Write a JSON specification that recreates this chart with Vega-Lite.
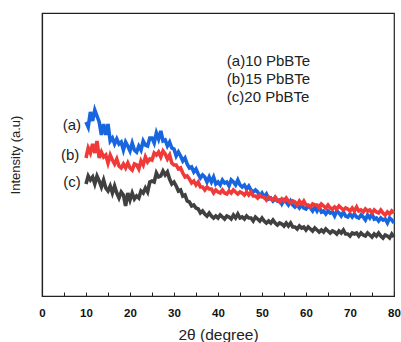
{
  "$schema": "https://vega.github.io/schema/vega-lite/v6.json",
  "autosize": {"type": "none"},
  "padding": {"left": 42, "top": 13, "right": 7, "bottom": 46},
  "width": 352,
  "height": 283,
  "background": "white",
  "config": {
    "view": {"stroke": "#222", "strokeWidth": 1.2},
    "font": "Liberation Sans"
  },
  "datasets": {
    "xrd": [
      {"x":10,"y":174,"s":"a"},{"x":10.5,"y":169,"s":"a"},{"x":11,"y":184,"s":"a"},{"x":11.5,"y":175,"s":"a"},{"x":12,"y":186,"s":"a"},{"x":12.5,"y":180,"s":"a"},{"x":13,"y":174,"s":"a"},{"x":13.5,"y":161,"s":"a"},{"x":14,"y":172,"s":"a"},{"x":14.5,"y":161,"s":"a"},{"x":15,"y":172,"s":"a"},{"x":15.5,"y":155,"s":"a"},{"x":16,"y":158,"s":"a"},{"x":16.5,"y":152,"s":"a"},{"x":17,"y":157,"s":"a"},{"x":17.5,"y":152,"s":"a"},{"x":18,"y":154,"s":"a"},{"x":18.5,"y":146,"s":"a"},{"x":19,"y":154,"s":"a"},{"x":19.5,"y":150,"s":"a"},{"x":20,"y":145,"s":"a"},{"x":20.5,"y":153,"s":"a"},{"x":21,"y":146,"s":"a"},{"x":21.5,"y":144,"s":"a"},{"x":22,"y":150,"s":"a"},{"x":22.5,"y":146,"s":"a"},{"x":23,"y":155,"s":"a"},{"x":23.5,"y":151,"s":"a"},{"x":24,"y":150,"s":"a"},{"x":24.5,"y":158,"s":"a"},{"x":25,"y":158,"s":"a"},{"x":25.5,"y":153,"s":"a"},{"x":26,"y":163,"s":"a"},{"x":26.5,"y":157,"s":"a"},{"x":27,"y":165,"s":"a"},{"x":27.5,"y":155,"s":"a"},{"x":28,"y":156,"s":"a"},{"x":28.5,"y":150,"s":"a"},{"x":29,"y":154,"s":"a"},{"x":29.5,"y":148,"s":"a"},{"x":30,"y":147,"s":"a"},{"x":30.5,"y":140,"s":"a"},{"x":31,"y":144,"s":"a"},{"x":31.5,"y":140,"s":"a"},{"x":32,"y":135,"s":"a"},{"x":32.5,"y":138,"s":"a"},{"x":33,"y":132,"s":"a"},{"x":33.5,"y":128,"s":"a"},{"x":34,"y":129,"s":"a"},{"x":34.5,"y":124,"s":"a"},{"x":35,"y":127,"s":"a"},{"x":35.5,"y":122,"s":"a"},{"x":36,"y":118,"s":"a"},{"x":36.5,"y":121,"s":"a"},{"x":37,"y":119,"s":"a"},{"x":37.5,"y":114,"s":"a"},{"x":38,"y":119,"s":"a"},{"x":38.5,"y":114,"s":"a"},{"x":39,"y":119,"s":"a"},{"x":39.5,"y":112,"s":"a"},{"x":40,"y":114,"s":"a"},{"x":40.5,"y":111,"s":"a"},{"x":41,"y":116,"s":"a"},{"x":41.5,"y":113,"s":"a"},{"x":42,"y":114,"s":"a"},{"x":42.5,"y":110,"s":"a"},{"x":43,"y":116,"s":"a"},{"x":43.5,"y":114,"s":"a"},{"x":44,"y":111,"s":"a"},{"x":44.5,"y":116,"s":"a"},{"x":45,"y":111,"s":"a"},{"x":45.5,"y":109,"s":"a"},{"x":46,"y":111,"s":"a"},{"x":46.5,"y":107,"s":"a"},{"x":47,"y":110,"s":"a"},{"x":47.5,"y":106,"s":"a"},{"x":48,"y":104,"s":"a"},{"x":48.5,"y":106,"s":"a"},{"x":49,"y":104,"s":"a"},{"x":49.5,"y":100,"s":"a"},{"x":50,"y":103,"s":"a"},{"x":50.5,"y":99,"s":"a"},{"x":51,"y":102,"s":"a"},{"x":51.5,"y":97,"s":"a"},{"x":52,"y":98,"s":"a"},{"x":52.5,"y":95,"s":"a"},{"x":53,"y":97,"s":"a"},{"x":53.5,"y":95,"s":"a"},{"x":54,"y":96,"s":"a"},{"x":54.5,"y":92,"s":"a"},{"x":55,"y":96,"s":"a"},{"x":55.5,"y":94,"s":"a"},{"x":56,"y":91,"s":"a"},{"x":56.5,"y":95,"s":"a"},{"x":57,"y":91,"s":"a"},{"x":57.5,"y":89,"s":"a"},{"x":58,"y":91,"s":"a"},{"x":58.5,"y":88,"s":"a"},{"x":59,"y":91,"s":"a"},{"x":59.5,"y":88,"s":"a"},{"x":60,"y":87,"s":"a"},{"x":60.5,"y":90,"s":"a"},{"x":61,"y":88,"s":"a"},{"x":61.5,"y":85,"s":"a"},{"x":62,"y":89,"s":"a"},{"x":62.5,"y":85,"s":"a"},{"x":63,"y":89,"s":"a"},{"x":63.5,"y":84,"s":"a"},{"x":64,"y":85,"s":"a"},{"x":64.5,"y":82,"s":"a"},{"x":65,"y":85,"s":"a"},{"x":65.5,"y":83,"s":"a"},{"x":66,"y":84,"s":"a"},{"x":66.5,"y":80,"s":"a"},{"x":67,"y":85,"s":"a"},{"x":67.5,"y":83,"s":"a"},{"x":68,"y":80,"s":"a"},{"x":68.5,"y":84,"s":"a"},{"x":69,"y":80,"s":"a"},{"x":69.5,"y":79,"s":"a"},{"x":70,"y":82,"s":"a"},{"x":70.5,"y":79,"s":"a"},{"x":71,"y":82,"s":"a"},{"x":71.5,"y":79,"s":"a"},{"x":72,"y":78,"s":"a"},{"x":72.5,"y":81,"s":"a"},{"x":73,"y":79,"s":"a"},{"x":73.5,"y":76,"s":"a"},{"x":74,"y":81,"s":"a"},{"x":74.5,"y":78,"s":"a"},{"x":75,"y":82,"s":"a"},{"x":75.5,"y":77,"s":"a"},{"x":76,"y":78,"s":"a"},{"x":76.5,"y":75,"s":"a"},{"x":77,"y":78,"s":"a"},{"x":77.5,"y":76,"s":"a"},{"x":78,"y":77,"s":"a"},{"x":78.5,"y":73,"s":"a"},{"x":79,"y":78,"s":"a"},{"x":79.5,"y":76,"s":"a"},{"x":80,"y":73,"s":"a"},
      {"x":10,"y":138,"s":"b"},{"x":10.5,"y":148,"s":"b"},{"x":11,"y":143,"s":"b"},{"x":11.5,"y":152,"s":"b"},{"x":12,"y":143,"s":"b"},{"x":12.5,"y":155,"s":"b"},{"x":13,"y":138,"s":"b"},{"x":13.5,"y":144,"s":"b"},{"x":14,"y":139,"s":"b"},{"x":14.5,"y":141,"s":"b"},{"x":15,"y":133,"s":"b"},{"x":15.5,"y":141,"s":"b"},{"x":16,"y":136,"s":"b"},{"x":16.5,"y":132,"s":"b"},{"x":17,"y":137,"s":"b"},{"x":17.5,"y":130,"s":"b"},{"x":18,"y":128,"s":"b"},{"x":18.5,"y":132,"s":"b"},{"x":19,"y":128,"s":"b"},{"x":19.5,"y":133,"s":"b"},{"x":20,"y":128,"s":"b"},{"x":20.5,"y":126,"s":"b"},{"x":21,"y":132,"s":"b"},{"x":21.5,"y":131,"s":"b"},{"x":22,"y":127,"s":"b"},{"x":22.5,"y":135,"s":"b"},{"x":23,"y":131,"s":"b"},{"x":23.5,"y":139,"s":"b"},{"x":24,"y":134,"s":"b"},{"x":24.5,"y":137,"s":"b"},{"x":25,"y":136,"s":"b"},{"x":25.5,"y":143,"s":"b"},{"x":26,"y":141,"s":"b"},{"x":26.5,"y":144,"s":"b"},{"x":27,"y":139,"s":"b"},{"x":27.5,"y":145,"s":"b"},{"x":28,"y":142,"s":"b"},{"x":28.5,"y":137,"s":"b"},{"x":29,"y":141,"s":"b"},{"x":29.5,"y":133,"s":"b"},{"x":30,"y":131,"s":"b"},{"x":30.5,"y":131,"s":"b"},{"x":31,"y":127,"s":"b"},{"x":31.5,"y":128,"s":"b"},{"x":32,"y":123,"s":"b"},{"x":32.5,"y":119,"s":"b"},{"x":33,"y":120,"s":"b"},{"x":33.5,"y":117,"s":"b"},{"x":34,"y":113,"s":"b"},{"x":34.5,"y":115,"s":"b"},{"x":35,"y":111,"s":"b"},{"x":35.5,"y":114,"s":"b"},{"x":36,"y":109,"s":"b"},{"x":36.5,"y":109,"s":"b"},{"x":37,"y":106,"s":"b"},{"x":37.5,"y":109,"s":"b"},{"x":38,"y":107,"s":"b"},{"x":38.5,"y":107,"s":"b"},{"x":39,"y":103,"s":"b"},{"x":39.5,"y":106,"s":"b"},{"x":40,"y":104,"s":"b"},{"x":40.5,"y":103,"s":"b"},{"x":41,"y":106,"s":"b"},{"x":41.5,"y":103,"s":"b"},{"x":42,"y":102,"s":"b"},{"x":42.5,"y":105,"s":"b"},{"x":43,"y":103,"s":"b"},{"x":43.5,"y":106,"s":"b"},{"x":44,"y":104,"s":"b"},{"x":44.5,"y":102,"s":"b"},{"x":45,"y":104,"s":"b"},{"x":45.5,"y":103,"s":"b"},{"x":46,"y":101,"s":"b"},{"x":46.5,"y":104,"s":"b"},{"x":47,"y":101,"s":"b"},{"x":47.5,"y":104,"s":"b"},{"x":48,"y":100,"s":"b"},{"x":48.5,"y":100,"s":"b"},{"x":49,"y":98,"s":"b"},{"x":49.5,"y":101,"s":"b"},{"x":50,"y":99,"s":"b"},{"x":50.5,"y":99,"s":"b"},{"x":51,"y":96,"s":"b"},{"x":51.5,"y":99,"s":"b"},{"x":52,"y":97,"s":"b"},{"x":52.5,"y":96,"s":"b"},{"x":53,"y":99,"s":"b"},{"x":53.5,"y":96,"s":"b"},{"x":54,"y":94,"s":"b"},{"x":54.5,"y":97,"s":"b"},{"x":55,"y":95,"s":"b"},{"x":55.5,"y":98,"s":"b"},{"x":56,"y":95,"s":"b"},{"x":56.5,"y":93,"s":"b"},{"x":57,"y":95,"s":"b"},{"x":57.5,"y":94,"s":"b"},{"x":58,"y":91,"s":"b"},{"x":58.5,"y":95,"s":"b"},{"x":59,"y":92,"s":"b"},{"x":59.5,"y":95,"s":"b"},{"x":60,"y":91,"s":"b"},{"x":60.5,"y":91,"s":"b"},{"x":61,"y":89,"s":"b"},{"x":61.5,"y":92,"s":"b"},{"x":62,"y":91,"s":"b"},{"x":62.5,"y":91,"s":"b"},{"x":63,"y":88,"s":"b"},{"x":63.5,"y":92,"s":"b"},{"x":64,"y":90,"s":"b"},{"x":64.5,"y":88,"s":"b"},{"x":65,"y":91,"s":"b"},{"x":65.5,"y":88,"s":"b"},{"x":66,"y":87,"s":"b"},{"x":66.5,"y":89,"s":"b"},{"x":67,"y":87,"s":"b"},{"x":67.5,"y":90,"s":"b"},{"x":68,"y":88,"s":"b"},{"x":68.5,"y":86,"s":"b"},{"x":69,"y":88,"s":"b"},{"x":69.5,"y":87,"s":"b"},{"x":70,"y":85,"s":"b"},{"x":70.5,"y":88,"s":"b"},{"x":71,"y":85,"s":"b"},{"x":71.5,"y":89,"s":"b"},{"x":72,"y":85,"s":"b"},{"x":72.5,"y":86,"s":"b"},{"x":73,"y":84,"s":"b"},{"x":73.5,"y":87,"s":"b"},{"x":74,"y":85,"s":"b"},{"x":74.5,"y":86,"s":"b"},{"x":75,"y":83,"s":"b"},{"x":75.5,"y":86,"s":"b"},{"x":76,"y":84,"s":"b"},{"x":76.5,"y":83,"s":"b"},{"x":77,"y":86,"s":"b"},{"x":77.5,"y":83,"s":"b"},{"x":78,"y":81,"s":"b"},{"x":78.5,"y":84,"s":"b"},{"x":79,"y":82,"s":"b"},{"x":79.5,"y":85,"s":"b"},{"x":80,"y":83,"s":"b"},
      {"x":10,"y":112,"s":"c"},{"x":10.5,"y":120,"s":"c"},{"x":11,"y":116,"s":"c"},{"x":11.5,"y":119,"s":"c"},{"x":12,"y":112,"s":"c"},{"x":12.5,"y":120,"s":"c"},{"x":13,"y":115,"s":"c"},{"x":13.5,"y":109,"s":"c"},{"x":14,"y":116,"s":"c"},{"x":14.5,"y":108,"s":"c"},{"x":15,"y":105,"s":"c"},{"x":15.5,"y":110,"s":"c"},{"x":16,"y":103,"s":"c"},{"x":16.5,"y":110,"s":"c"},{"x":17,"y":103,"s":"c"},{"x":17.5,"y":98,"s":"c"},{"x":18,"y":104,"s":"c"},{"x":18.5,"y":101,"s":"c"},{"x":19,"y":90,"s":"c"},{"x":19.5,"y":103,"s":"c"},{"x":20,"y":96,"s":"c"},{"x":20.5,"y":103,"s":"c"},{"x":21,"y":97,"s":"c"},{"x":21.5,"y":100,"s":"c"},{"x":22,"y":98,"s":"c"},{"x":22.5,"y":105,"s":"c"},{"x":23,"y":103,"s":"c"},{"x":23.5,"y":108,"s":"c"},{"x":24,"y":104,"s":"c"},{"x":24.5,"y":114,"s":"c"},{"x":25,"y":115,"s":"c"},{"x":25.5,"y":114,"s":"c"},{"x":26,"y":123,"s":"c"},{"x":26.5,"y":119,"s":"c"},{"x":27,"y":120,"s":"c"},{"x":27.5,"y":125,"s":"c"},{"x":28,"y":121,"s":"c"},{"x":28.5,"y":124,"s":"c"},{"x":29,"y":117,"s":"c"},{"x":29.5,"y":112,"s":"c"},{"x":30,"y":114,"s":"c"},{"x":30.5,"y":110,"s":"c"},{"x":31,"y":105,"s":"c"},{"x":31.5,"y":106,"s":"c"},{"x":32,"y":100,"s":"c"},{"x":32.5,"y":101,"s":"c"},{"x":33,"y":95,"s":"c"},{"x":33.5,"y":94,"s":"c"},{"x":34,"y":90,"s":"c"},{"x":34.5,"y":91,"s":"c"},{"x":35,"y":88,"s":"c"},{"x":35.5,"y":87,"s":"c"},{"x":36,"y":83,"s":"c"},{"x":36.5,"y":85,"s":"c"},{"x":37,"y":82,"s":"c"},{"x":37.5,"y":80,"s":"c"},{"x":38,"y":83,"s":"c"},{"x":38.5,"y":80,"s":"c"},{"x":39,"y":78,"s":"c"},{"x":39.5,"y":80,"s":"c"},{"x":40,"y":78,"s":"c"},{"x":40.5,"y":81,"s":"c"},{"x":41,"y":79,"s":"c"},{"x":41.5,"y":77,"s":"c"},{"x":42,"y":80,"s":"c"},{"x":42.5,"y":79,"s":"c"},{"x":43,"y":77,"s":"c"},{"x":43.5,"y":81,"s":"c"},{"x":44,"y":78,"s":"c"},{"x":44.5,"y":82,"s":"c"},{"x":45,"y":78,"s":"c"},{"x":45.5,"y":79,"s":"c"},{"x":46,"y":77,"s":"c"},{"x":46.5,"y":80,"s":"c"},{"x":47,"y":78,"s":"c"},{"x":47.5,"y":78,"s":"c"},{"x":48,"y":75,"s":"c"},{"x":48.5,"y":79,"s":"c"},{"x":49,"y":77,"s":"c"},{"x":49.5,"y":75,"s":"c"},{"x":50,"y":78,"s":"c"},{"x":50.5,"y":75,"s":"c"},{"x":51,"y":73,"s":"c"},{"x":51.5,"y":75,"s":"c"},{"x":52,"y":73,"s":"c"},{"x":52.5,"y":76,"s":"c"},{"x":53,"y":73,"s":"c"},{"x":53.5,"y":71,"s":"c"},{"x":54,"y":73,"s":"c"},{"x":54.5,"y":72,"s":"c"},{"x":55,"y":70,"s":"c"},{"x":55.5,"y":73,"s":"c"},{"x":56,"y":70,"s":"c"},{"x":56.5,"y":73,"s":"c"},{"x":57,"y":69,"s":"c"},{"x":57.5,"y":69,"s":"c"},{"x":58,"y":67,"s":"c"},{"x":58.5,"y":70,"s":"c"},{"x":59,"y":68,"s":"c"},{"x":59.5,"y":69,"s":"c"},{"x":60,"y":66,"s":"c"},{"x":60.5,"y":69,"s":"c"},{"x":61,"y":67,"s":"c"},{"x":61.5,"y":65,"s":"c"},{"x":62,"y":68,"s":"c"},{"x":62.5,"y":66,"s":"c"},{"x":63,"y":64,"s":"c"},{"x":63.5,"y":66,"s":"c"},{"x":64,"y":64,"s":"c"},{"x":64.5,"y":67,"s":"c"},{"x":65,"y":65,"s":"c"},{"x":65.5,"y":63,"s":"c"},{"x":66,"y":65,"s":"c"},{"x":66.5,"y":64,"s":"c"},{"x":67,"y":62,"s":"c"},{"x":67.5,"y":65,"s":"c"},{"x":68,"y":63,"s":"c"},{"x":68.5,"y":66,"s":"c"},{"x":69,"y":62,"s":"c"},{"x":69.5,"y":62,"s":"c"},{"x":70,"y":60,"s":"c"},{"x":70.5,"y":63,"s":"c"},{"x":71,"y":62,"s":"c"},{"x":71.5,"y":63,"s":"c"},{"x":72,"y":60,"s":"c"},{"x":72.5,"y":63,"s":"c"},{"x":73,"y":61,"s":"c"},{"x":73.5,"y":60,"s":"c"},{"x":74,"y":63,"s":"c"},{"x":74.5,"y":61,"s":"c"},{"x":75,"y":59,"s":"c"},{"x":75.5,"y":62,"s":"c"},{"x":76,"y":60,"s":"c"},{"x":76.5,"y":63,"s":"c"},{"x":77,"y":60,"s":"c"},{"x":77.5,"y":58,"s":"c"},{"x":78,"y":61,"s":"c"},{"x":78.5,"y":60,"s":"c"},{"x":79,"y":58,"s":"c"},{"x":79.5,"y":62,"s":"c"},{"x":80,"y":59,"s":"c"}
    ],
    "tags": [
      {"x":6.8,"y":171,"t":"(a)"},
      {"x":6.4,"y":141,"t":"(b)"},
      {"x":6.8,"y":114,"t":"(c)"}
    ],
    "notes": [
      {"x":42,"y":235,"t":"(a)10 PbBTe"},
      {"x":42,"y":217,"t":"(b)15 PbBTe"},
      {"x":42,"y":199,"t":"(c)20 PbBTe"}
    ]
  },
  "encoding": {
    "x": {
      "field": "x", "type": "quantitative",
      "scale": {"domain": [0, 80], "nice": false},
      "axis": {
        "title": "2θ (degree)",
        "values": [0,5,10,15,20,25,30,35,40,45,50,55,60,65,70,75,80],
        "labelExpr": "datum.value % 10 === 0 ? datum.label : ''",
        "labelFont": "Liberation Sans", "labelFontWeight": "bold", "labelFontSize": 11.5,
        "labelColor": "#111", "labelPadding": 15, "labelFlush": false,
        "tickSize": -4, "tickColor": "#222", "domainColor": "#222", "domainWidth": 1.2,
        "grid": false,
        "titleFont": "Liberation Sans", "titleFontSize": 15.5, "titleFontWeight": "normal",
        "titleColor": "#222", "titlePadding": 9
      }
    },
    "y": {
      "field": "y", "type": "quantitative",
      "scale": {"domain": [0, 283], "nice": false},
      "axis": {
        "title": "Intensity (a.u)", "labels": false, "ticks": false, "grid": false,
        "domainColor": "#222", "domainWidth": 1.2,
        "titleFont": "Liberation Sans", "titleFontSize": 13, "titleFontWeight": "normal",
        "titleColor": "#222", "titlePadding": 20
      }
    }
  },
  "layer": [
    {
      "data": {"name": "xrd"},
      "mark": {"type": "line", "strokeWidth": 3.6, "interpolate": "linear"},
      "encoding": {
        "color": {
          "field": "s", "type": "nominal",
          "scale": {"domain": ["a", "b", "c"], "range": ["#1766e0", "#f03a3a", "#404040"]},
          "legend": null
        }
      }
    },
    {
      "data": {"name": "tags"},
      "mark": {"type": "text", "font": "Liberation Sans", "fontSize": 15, "color": "#222", "align": "center", "baseline": "middle"},
      "encoding": {"text": {"field": "t"}}
    },
    {
      "data": {"name": "notes"},
      "mark": {"type": "text", "font": "Liberation Sans", "fontSize": 15, "color": "#222", "align": "left", "baseline": "middle"},
      "encoding": {"text": {"field": "t"}}
    }
  ]
}
